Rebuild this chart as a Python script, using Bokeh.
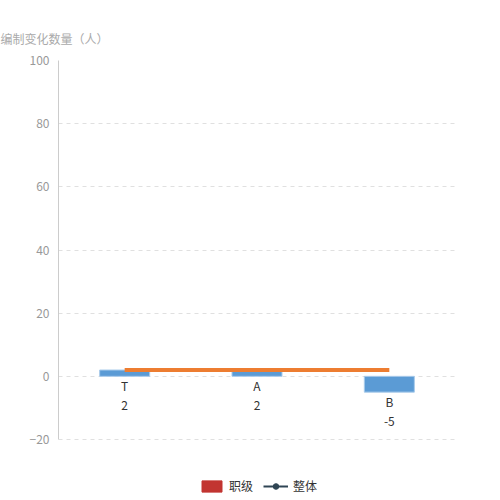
from bokeh.plotting import figure
from bokeh.models import (FixedTicker, Title, Legend, LegendItem, ColumnDataSource)
from bokeh.core.properties import value
from bokeh.embed import file_html
from bokeh.resources import INLINE

categories = ["T", "A", "B"]
changes = [2, 2, -5]
overall = [2, 2, 2]
y_ticks = [-20, 0, 20, 40, 60, 80, 100]
axis_title = "编制变化数量（人）"
legend_bar = "职级"
legend_line = "整体"

CJK = "Noto Sans CJK SC"

# axis spans -20..100 over 379px; frame extends to bottom of page for the legend
y_lo, y_hi = min(y_ticks), max(y_ticks)
per_px = (y_hi - y_lo) / 379.0
p = figure(x_range=categories, y_range=(y_hi - 440 * per_px, y_hi), width=500, height=500,
           output_backend="svg", toolbar_location=None,
           min_border_left=58, min_border_right=45, min_border_top=60, min_border_bottom=0)
p.outline_line_color = None
p.background_fill_color = "white"
p.border_fill_color = "white"
p.x_range.range_padding = 0

p.xaxis.visible = False
p.xgrid.visible = False
p.ygrid.grid_line_color = "#e0e0e0"
p.ygrid.grid_line_dash = "4 4"
p.yaxis.ticker = FixedTicker(ticks=y_ticks)
p.yaxis.bounds = (y_lo, y_hi)
p.yaxis.axis_line_color = "#cccccc"
p.yaxis.major_tick_line_color = None
p.yaxis.minor_tick_line_color = None
p.yaxis.major_label_standoff = 3
p.yaxis.major_label_text_color = "#999999"
p.yaxis.major_label_text_font = CJK
p.yaxis.major_label_text_font_size = "12px"

bottoms = [min(0, v) for v in changes]
src = ColumnDataSource(dict(cat=categories, val=changes, bottom=bottoms,
                            vtxt=[str(v) for v in changes]))

p.vbar(x="cat", top="val", bottom=0, width=0.378, source=src,
       fill_color="#5b9bd5", line_color="#a9cbeb", line_width=1)
p.line(categories, overall, line_color="#ed7d31", line_width=4)

p.text(x="cat", y="bottom", text="cat", source=src, y_offset=9,
       text_align="center", text_baseline="middle", text_color="#333333",
       text_font=value(CJK), text_font_size="12px")
p.text(x="cat", y="bottom", text="vtxt", source=src, y_offset=29,
       text_align="center", text_baseline="middle", text_color="#333333",
       text_font=value(CJK), text_font_size="12px")

p.add_layout(Title(text=axis_title, align="left", offset=-58, standoff=27,
                   text_color="#aaaaaa", text_font=CJK, text_font_size="12px",
                   text_font_style="normal"), "above")

# legend-only renderers (NaN values, so nothing is drawn in the plot)
dummy = ColumnDataSource(dict(x=[categories[0]], y=[float("nan")]))
r_bar = p.vbar(x="x", top="y", bottom="y", width=0.1, source=dummy,
               fill_color="#c23531", line_color="#c23531")
r_line = p.line("x", "y", source=dummy, line_color="#2f4554", line_width=2)
r_pt = p.scatter("x", "y", source=dummy, size=11, fill_color="#2f4554",
                 line_color="#2f4554")

legend = Legend(items=[LegendItem(label=legend_bar, renderers=[r_bar], index=0),
                       LegendItem(label=legend_line, renderers=[r_line, r_pt], index=0)],
                location=(141, 6), orientation="horizontal",
                glyph_width=25, glyph_height=14, label_height=14,
                padding=0, margin=0, spacing=10, label_standoff=5,
                border_line_color=None, background_fill_alpha=0,
                label_text_font=CJK, label_text_font_size="12px",
                label_text_color="#333333")
p.add_layout(legend)

open("out.html", "w").write(file_html(p, INLINE))
